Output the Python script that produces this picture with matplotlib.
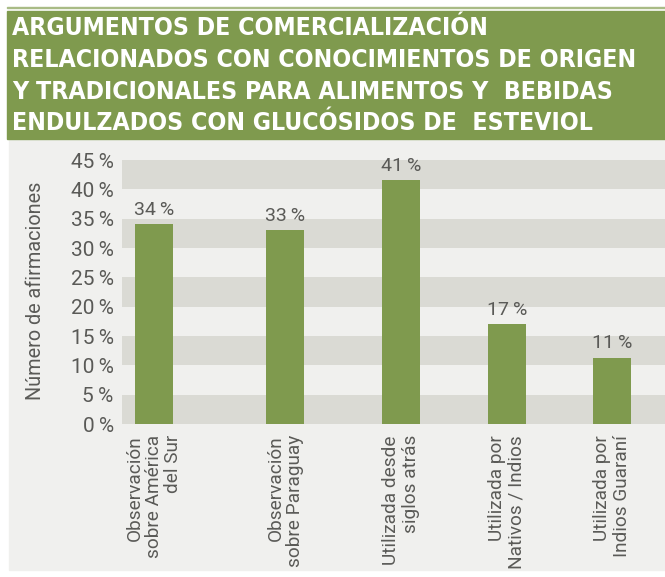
import matplotlib
matplotlib.use("Agg")
from matplotlib import pyplot as plt
from matplotlib.patches import Rectangle

# data
categorias = ["Observación\nsobre América\ndel Sur",
              "Observación\nsobre Paraguay",
              "Utilizada desde\nsiglos atrás",
              "Utilizada por\nNativos / Indios",
              "Utilizada por\nIndios Guaraní"]
valores = [34.1, 33.1, 41.6, 17.0, 11.3]
etiquetas = ["34\u2009%", "33\u2009%", "41\u2009%", "17\u2009%", "11\u2009%"]
yticks = [0, 5, 10, 15, 20, 25, 30, 35, 40, 45]
titulo = ["ARGUMENTOS DE COMERCIALIZACIÓN",
          "RELACIONADOS CON CONOCIMIENTOS DE ORIGEN",
          "Y TRADICIONALES PARA ALIMENTOS Y  BEBIDAS",
          "ENDULZADOS CON GLUCÓSIDOS DE  ESTEVIOL"]

# layout (pixel-like units across the plot)
pos = [154, 285, 401, 507, 612]
W, H = 665, 577
verde = "#7f9a4e"
gris_txt = "#5a5a57"

fig = plt.figure(figsize=(W / 100, H / 100), dpi=100)
fig.patch.set_facecolor("white")

# background panel and header
fig.patches.append(Rectangle((9 / W, (H - 570) / H), (W - 9) / W, (570 - 139) / H,
                             transform=fig.transFigure, color="#f0f0ee", zorder=-5))
fig.patches.append(Rectangle((7 / W, (H - 139) / H), (W - 7) / W, 128 / H,
                             transform=fig.transFigure, color=verde, zorder=-5))
fig.patches.append(Rectangle((7 / W, (H - 8) / H), (W - 7) / W, 1.5 / H,
                             transform=fig.transFigure, color="#a9bb86", zorder=-5))
for i, linea in enumerate(titulo):
    fig.text(12 / W, 1 - (28 + 31.8 * i) / H, linea, color="white", fontsize=17.8,
             fontweight="bold", fontstretch="condensed", family="DejaVu Sans",
             va="center", ha="left")

ax = fig.add_axes([122 / W, (H - 424) / H, (W - 122) / W, 264 / H])
ax.set_facecolor("#f0f0ee")
for y0 in range(0, 45, 10):
    ax.axhspan(y0, y0 + 5, color="#dadad4", lw=0, zorder=0)
ax.bar(pos, valores, width=38, color=verde, zorder=2)
for x, v, t in zip(pos, valores, etiquetas):
    ax.text(x, v + 0.9, t, ha="center", va="bottom", fontsize=14,
            color=gris_txt, family="Roboto")

ax.set_xlim(122, 665)
ax.set_ylim(0, 45)
ax.set_yticks(yticks)
ax.set_yticklabels([f"{t}\u2009%" for t in yticks], fontsize=15,
                   color=gris_txt, family="Roboto")
ax.set_xticks(pos)
ax.set_xticklabels(categorias, rotation=90, ha="center", va="top",
                   multialignment="right", fontsize=13.7, color=gris_txt,
                   family="Roboto", linespacing=1.08)
ax.tick_params(length=0, axis="y", pad=6)
ax.tick_params(length=0, axis="x", pad=8)
for s in ax.spines.values():
    s.set_visible(False)
fig.text(36 / W, 1 - 291 / H, "Número de afirmaciones", rotation=90,
         ha="center", va="center", fontsize=14.3, color=gris_txt, family="Roboto")

fig.savefig("out.png", dpi=100)
